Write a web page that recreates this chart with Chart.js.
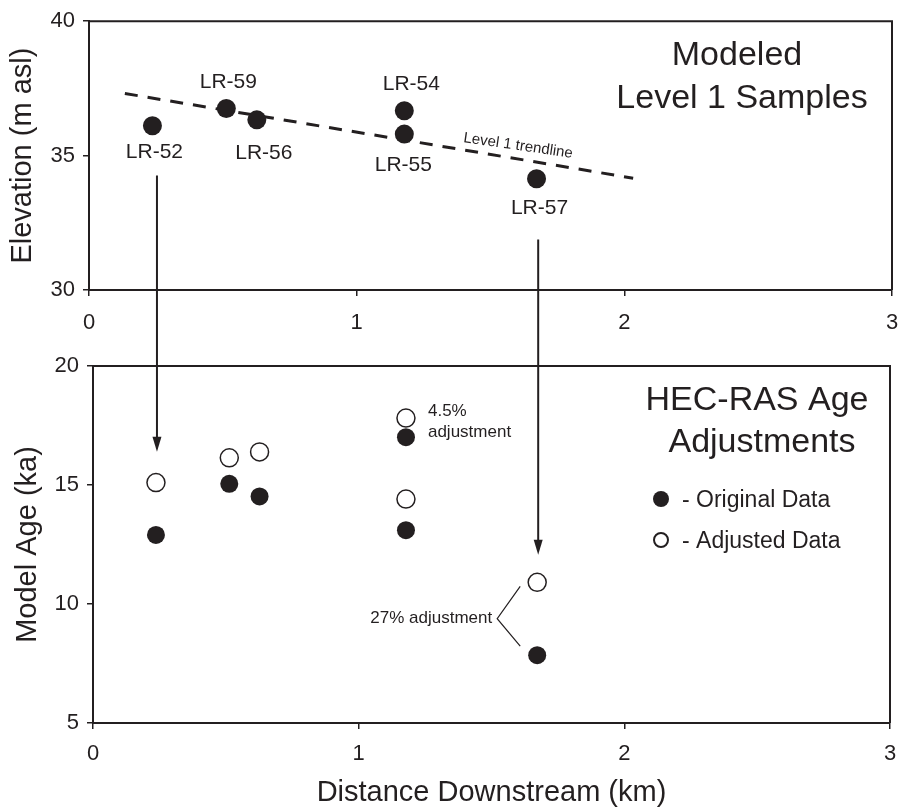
<!DOCTYPE html>
<html lang="en">
<head>
<meta charset="UTF-8">
<title>Level 1 samples and HEC-RAS age adjustments</title>
<script src="https://cdn.jsdelivr.net/npm/chart.js"></script>
<style>
  body { margin: 0; background: #fff; }
  #wrap { position: relative; width: 898px; height: 807px; }
  #wrap canvas { position: absolute; left: 0; top: 0; }
</style>
</head>
<body>
<div id="wrap">
  <canvas id="elev" width="898" height="807"></canvas>
  <canvas id="ages" width="898" height="807"></canvas>
</div>
<script>
// samples and distance downstream (km)
const samples = ['LR-52', 'LR-59', 'LR-56', 'LR-54', 'LR-55', 'LR-57'];
const distKm = [0.237, 0.513, 0.627, 1.178, 1.178, 1.672];
// elevation (m asl)
const elevation = [36.11, 36.75, 36.33, 36.67, 35.80, 34.14];
// level 1 trendline ends
const trendX = [0.134, 2.033];
const trendY = [37.31, 34.16];
// model ages (ka)
const originalAge = [12.9, 15.05, 14.52, 17.01, 13.1, 7.85];
const adjustedAge = [15.1, 16.14, 16.39, 17.81, 14.41, 10.91];
// tick values
const xTicks = [0, 1, 2, 3];
const elevTicks = [30, 35, 40];
const ageTicks = [5, 10, 15, 20];
// arrows: sample index, start on elevation axis, tip on age axis
const arrowSample = [0, 5];
const arrowFromElev = [34.26, 31.88];
const arrowToAge = [16.4, 12.07];

const ink = '#231f20';
const fam = '"Liberation Sans", Arial, Helvetica, sans-serif';
Chart.defaults.font.family = fam;
Chart.defaults.color = ink;

// label offsets (px) for sample names in the top panel
const labelOffset = {
  'LR-52': [2, 26], 'LR-59': [2, -26], 'LR-56': [7, 33],
  'LR-54': [7, -27], 'LR-55': [-1, 31], 'LR-57': [3, 29]
};

function axisX(height, opts) {
  return Object.assign({
    type: 'linear', min: xTicks[0], max: xTicks[xTicks.length - 1],
    afterFit: s => { s.height = height; s.paddingLeft = 0; s.paddingRight = 0; },
    ticks: { stepSize: 1, font: { size: 22 }, color: ink, padding: 12 },
    grid: { drawOnChartArea: false, drawTicks: true, tickLength: 6, color: ink, lineWidth: 1.5 },
    border: { display: true, color: ink, width: 2 }
  }, opts);
}
function axisY(ticks, width, title, pad) {
  return {
    type: 'linear', min: ticks[0], max: ticks[ticks.length - 1],
    afterFit: s => { s.width = width; },
    ticks: { stepSize: 5, font: { size: 22 }, color: ink, padding: 8 },
    grid: { drawOnChartArea: false, drawTicks: true, tickLength: 6, color: ink, lineWidth: 1.5 },
    border: { display: true, color: ink, width: 2 },
    title: { display: true, text: title, font: { size: 29 }, color: ink, padding: { top: pad, bottom: 0 } }
  };
}

const frame = {
  id: 'frame',
  afterDraw(chart) {
    const a = chart.chartArea, ctx = chart.ctx;
    ctx.save();
    ctx.strokeStyle = ink;
    ctx.lineWidth = 2;
    ctx.beginPath();
    ctx.moveTo(a.left, a.top); ctx.lineTo(a.right, a.top); ctx.lineTo(a.right, a.bottom);
    ctx.stroke();
    ctx.restore();
  }
};

const topDecor = {
  id: 'topDecor',
  afterDatasetsDraw(chart) {
    const { ctx, chartArea: area, scales: { x, y } } = chart;
    ctx.save();
    ctx.fillStyle = ink;
    ctx.font = '21px ' + fam;
    ctx.textAlign = 'center';
    ctx.textBaseline = 'middle';
    samples.forEach((s, i) => {
      const [dx, dy] = labelOffset[s];
      ctx.fillText(s, x.getPixelForValue(distKm[i]) + dx, y.getPixelForValue(elevation[i]) + dy);
    });
    // title
    ctx.textBaseline = 'alphabetic';
    ctx.font = '34px ' + fam;
    ctx.fillText('Modeled', area.right - 155, area.top + 44);
    ctx.fillText('Level 1 Samples', area.right - 150, area.top + 87);
    // trendline label
    const x0 = x.getPixelForValue(trendX[0]), y0 = y.getPixelForValue(trendY[0]);
    const x1 = x.getPixelForValue(trendX[1]), y1 = y.getPixelForValue(trendY[1]);
    const t = 0.77;
    ctx.translate(x0 + (x1 - x0) * t, y0 + (y1 - y0) * t);
    ctx.rotate(Math.atan2(y1 - y0, x1 - x0) - 0.02);
    ctx.font = '15px ' + fam;
    ctx.textBaseline = 'middle';
    ctx.fillText('Level 1 trendline', 0, -13);
    ctx.restore();
  }
};

const elevChart = new Chart(document.getElementById('elev'), {
  type: 'scatter',
  data: {
    datasets: [{
      label: 'Samples',
      data: distKm.map((d, i) => ({ x: d, y: elevation[i] })),
      pointRadius: 9.5, pointBackgroundColor: ink, pointBorderColor: ink, pointBorderWidth: 0
    }, {
      type: 'line',
      label: 'Level 1 trendline',
      data: trendX.map((d, i) => ({ x: d, y: trendY[i] })),
      borderColor: ink, borderWidth: 3, borderDash: [13, 10], pointRadius: 0, fill: false
    }]
  },
  options: {
    responsive: false, animation: false, events: [],
    layout: { autoPadding: false, padding: { left: 0, top: 20, right: 6, bottom: 467 } },
    plugins: { legend: { display: false }, tooltip: { enabled: false } },
    scales: {
      x: axisX(50, { ticks: { stepSize: 1, font: { size: 22 }, color: ink, padding: 14 } }),
      y: axisY(elevTicks, 89, 'Elevation (m asl)', 6)
    }
  },
  plugins: [frame, topDecor]
});

const bottomDecor = {
  id: 'bottomDecor',
  afterDatasetsDraw(chart) {
    const { ctx, chartArea: area, scales: { x, y } } = chart;
    const ey = elevChart.scales.y;
    ctx.save();
    ctx.strokeStyle = ink;
    ctx.fillStyle = ink;
    // arrows from the top panel down to the adjusted ages
    arrowSample.forEach((si, k) => {
      const px = x.getPixelForValue(distKm[si]) + 1;
      const ya = ey.getPixelForValue(arrowFromElev[k]);
      const yb = y.getPixelForValue(arrowToAge[k]);
      ctx.lineWidth = 2;
      ctx.beginPath(); ctx.moveTo(px, ya); ctx.lineTo(px, yb - 12); ctx.stroke();
      ctx.beginPath();
      ctx.moveTo(px, yb); ctx.lineTo(px - 4.5, yb - 15); ctx.lineTo(px + 4.5, yb - 15);
      ctx.closePath(); ctx.fill();
    });
    // 4.5% note
    ctx.font = '17px ' + fam;
    ctx.textAlign = 'left';
    ctx.textBaseline = 'alphabetic';
    const nx = x.getPixelForValue(distKm[3]);
    ctx.fillText('4.5%', nx + 22, y.getPixelForValue(adjustedAge[3]) - 2);
    ctx.fillText('adjustment', nx + 22, y.getPixelForValue(originalAge[3]) + 0);
    // 27% bracket
    const bx = x.getPixelForValue(distKm[5]);
    const yo = y.getPixelForValue(adjustedAge[5]), yf = y.getPixelForValue(originalAge[5]);
    const ym = (yo + yf) / 2;
    ctx.lineWidth = 1.2;
    ctx.beginPath();
    ctx.moveTo(bx - 17, yo + 4); ctx.lineTo(bx - 40, ym); ctx.lineTo(bx - 17, yf - 9);
    ctx.stroke();
    ctx.textAlign = 'right';
    ctx.fillText('27% adjustment', bx - 45, ym + 4);
    // title
    ctx.textAlign = 'center';
    ctx.font = '34px ' + fam;
    ctx.fillText('HEC-RAS Age', area.right - 133, area.top + 44);
    ctx.fillText('Adjustments', area.right - 128, area.top + 86);
    // legend
    const lx = area.right - 229;
    ctx.font = '23px ' + fam;
    ctx.textAlign = 'left';
    ctx.beginPath(); ctx.arc(lx, area.top + 133, 8, 0, Math.PI * 2); ctx.fill();
    ctx.fillText('- Original Data', lx + 21, area.top + 141);
    ctx.lineWidth = 2;
    ctx.beginPath(); ctx.arc(lx, area.top + 174, 7, 0, Math.PI * 2); ctx.stroke();
    ctx.fillText('- Adjusted Data', lx + 21, area.top + 182);
    ctx.restore();
  }
};

new Chart(document.getElementById('ages'), {
  type: 'scatter',
  data: {
    datasets: [{
      label: 'Original Data',
      data: distKm.map((d, i) => ({ x: d, y: originalAge[i] })),
      pointRadius: 9, pointBackgroundColor: ink, pointBorderColor: ink, pointBorderWidth: 0
    }, {
      label: 'Adjusted Data',
      data: distKm.map((d, i) => ({ x: d, y: adjustedAge[i] })),
      pointRadius: 9, pointBackgroundColor: '#fff', pointBorderColor: ink, pointBorderWidth: 1.5
    }]
  },
  options: {
    responsive: false, animation: false, events: [],
    layout: { autoPadding: false, padding: { left: 0, top: 366, right: 8, bottom: 0 } },
    plugins: { legend: { display: false }, tooltip: { enabled: false } },
    scales: {
      x: axisX(84, {
        title: { display: true, text: 'Distance Downstream (km)', font: { size: 29, lineHeight: 1 }, color: ink, padding: 0 }
      }),
      y: axisY(ageTicks, 93, 'Model Age (ka)', 11)
    }
  },
  plugins: [frame, bottomDecor]
});
</script>
</body>
</html>
